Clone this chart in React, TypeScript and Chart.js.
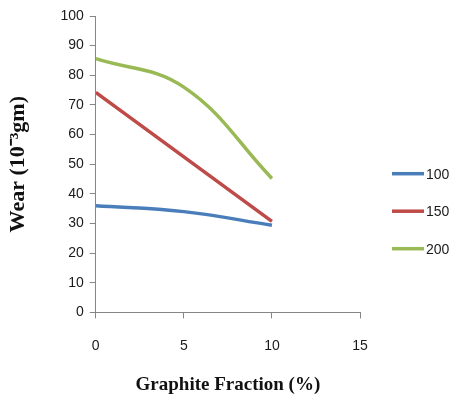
import React, { useEffect, useRef } from "react";
import { Chart, registerables } from "chart.js";

Chart.register(...registerables);

const graphiteFraction = [0, 5, 10];
const seriesLabels = ["100", "150", "200"];
const wear100 = [36, 34, 29.4];
const wear150 = [74.2, 52.5, 30.7];
const wear200 = [85.6, 76, 45.2];
const xTicks = [0, 5, 10, 15];
const yTicks = [0, 10, 20, 30, 40, 50, 60, 70, 80, 90, 100];

const colors = ["#4A7EBB", "#BE4B48", "#98B954"];
const tickFont = { family: "'Liberation Sans', Arial, sans-serif", size: 14 };
const tickColor = "#1a1a1a";
const axisColor = "#868686";

const legendPlugin = {
  id: "lineLegend",
  afterDraw(chart: any) {
    const { ctx, chartArea } = chart;
    const x0 = chartArea.right + 32;
    const midY = (chartArea.top + chartArea.bottom) / 2 + 47;
    ctx.save();
    chart.data.datasets.forEach((ds: any, i: number) => {
      const y = midY + (i - 1) * 37.5;
      ctx.strokeStyle = ds.borderColor;
      ctx.lineWidth = 3.5;
      ctx.beginPath();
      ctx.moveTo(x0, y);
      ctx.lineTo(x0 + 32, y);
      ctx.stroke();
      ctx.fillStyle = tickColor;
      ctx.font = `${tickFont.size}px ${tickFont.family}`;
      ctx.textAlign = "left";
      ctx.textBaseline = "middle";
      ctx.fillText(ds.label, x0 + 34, y + 1);
    });
    ctx.restore();
  },
};

export default function App() {
  const ref = useRef<HTMLCanvasElement>(null);
  useEffect(() => {
    document.body.style.margin = "0";
    const series = [wear100, wear150, wear200];
    const chart = new Chart(ref.current as HTMLCanvasElement, {
      type: "line",
      data: {
        datasets: series.map((vals, i) => ({
          label: seriesLabels[i],
          data: graphiteFraction.map((x, j) => ({ x, y: vals[j] })),
          borderColor: colors[i],
          backgroundColor: colors[i],
          borderWidth: 3.5,
          pointRadius: 0,
          tension: 0.4,
          fill: false,
        })),
      },
      options: {
        animation: false,
        responsive: false,
        maintainAspectRatio: false,
        layout: { padding: { top: 16, right: 94, bottom: 4, left: 0 } },
        plugins: { legend: { display: false }, tooltip: { enabled: false } },
        scales: {
          x: {
            type: "linear",
            min: 0,
            max: 15,
            afterBuildTicks: (axis: any) => {
              axis.ticks = xTicks.map((v) => ({ value: v }));
            },
            grid: { drawOnChartArea: false, drawTicks: true, tickLength: 6, color: axisColor },
            border: { color: axisColor, width: 1 },
            ticks: { font: tickFont, color: tickColor, padding: 19, maxRotation: 0 },
            title: {
              display: true,
              text: "Graphite Fraction (%)",
              font: { family: "'Liberation Serif', 'Times New Roman', serif", size: 19, weight: "bold" },
              color: "#111",
              padding: { top: 0, bottom: 0 },
            },
          },
          y: {
            min: 0,
            max: 100,
            afterBuildTicks: (axis: any) => {
              axis.ticks = yTicks.map((v) => ({ value: v }));
            },
            grid: { drawOnChartArea: false, drawTicks: true, tickLength: 6, color: axisColor },
            border: { color: axisColor, width: 1 },
            ticks: { font: tickFont, color: tickColor, padding: 6 },
            title: {
              display: true,
              text: "Wear (10\u207B\u00B3gm)",
              font: { family: "'Liberation Serif', 'Times New Roman', serif", size: 22, weight: "bold" },
              color: "#111",
              padding: { top: 5, bottom: 23 },
            },
          },
        },
      },
      plugins: [legendPlugin],
    });
    return () => chart.destroy();
  }, []);
  return (
    <div style={{ width: 454, height: 400, overflow: "hidden", background: "#fff" }}>
      <canvas ref={ref} width={454} height={400} style={{ display: "block" }} />
    </div>
  );
}
